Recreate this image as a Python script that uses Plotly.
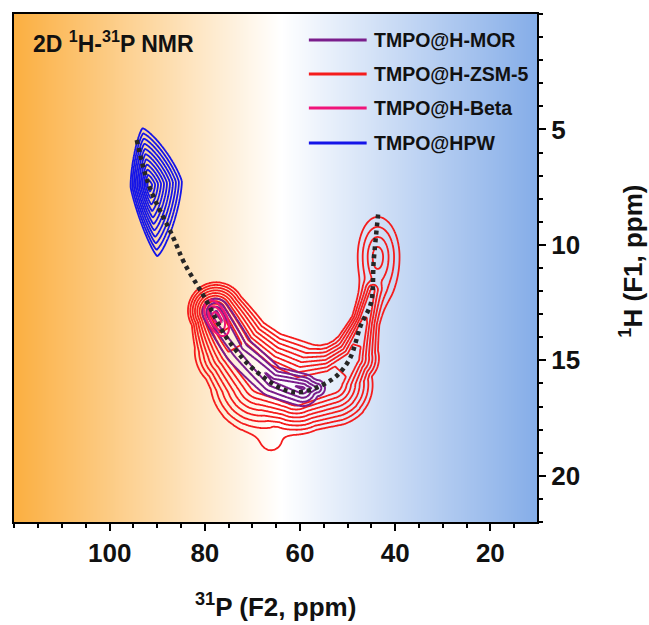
import numpy as np
import plotly.graph_objects as go

# ---------------- layout constants ----------------
W, H = 649, 625
MARGIN = dict(l=12, r=112, t=14, b=103)
X_RANGE = [120.1, 10.2]
Y_RANGE = [22.0, 0.0]
PLOT_W = W - MARGIN["l"] - MARGIN["r"]
PLOT_H = H - MARGIN["t"] - MARGIN["b"]
KX = PLOT_W / (X_RANGE[0] - X_RANGE[1])   # screen px per ppm (F2)
KY = PLOT_H / (Y_RANGE[0] - Y_RANGE[1])   # screen px per ppm (F1)

# ---------------- data ----------------
X_TICKS = [100, 80, 60, 40, 20]
Y_TICKS = [5, 10, 15, 20]

SERIES = ["TMPO@H-MOR", "TMPO@H-ZSM-5", "TMPO@H-Beta", "TMPO@HPW"]
COLORS = ["#7A1E8C", "#F51C1C", "#F0147A", "#1414E8"]

# isolated peaks:
# (F2 ppm, F1 ppm, contour levels, spacing left, right, up, down [px/level], tilt deg, norm p)
HPW_PEAKS = [
    (91.7, 7.41, 11, 1.7, 3.0, 5.2, 6.5, -6.6, 1.3),
]
ZSM5_PEAKS = [
    (43.69, 10.52, 4, 5.0, 5.5, 10.0, 12.0, 0, 2.0),    # high-field small peak
    (66.10, 18.45, 0.7, 13.0, 14.0, 14.0, 14.0, 0, 2.0),  # tail
]
BETA_PEAKS = [
    (77.5, 13.17, 3.0, 6.5, 6.5, 3.3, 3.3, 63, 2.0),
]
MOR_PEAKS = []

# correlation ridges:
# (F2 ppm, F1 ppm, contour levels, spacing inside, outside [px/level], flat core [px])
ZSM5_RIDGE = [
    (78.02, 12.91, 10.0, 2.8, 2.3, 3),
    (73.42, 14.55, 7.9, 3.9, 4.3, 8),
    (67.77, 15.76, 7.9, 4.6, 5.6, 11),
    (60.86, 16.37, 7.4, 5.2, 3.9, 12),
    (53.53, 15.94, 7.4, 3.8, 4.6, 10),
    (48.93, 14.90, 6.5, 3.2, 3.3, 5),
    (46.41, 13.25, 5.0, 2.0, 2.4, 3),
    (44.74, 11.95, 4.0, 2.4, 2.8, 2),
]
MOR_RIDGE = [
    (77.6, 12.91, 3.3, 4.0, 4.2, 0),
    (72.37, 14.55, 2.3, 5.5, 7.0, 0),
    (65.67, 15.85, 3.3, 4.0, 5.0, 0),
    (59.39, 16.20, 4.3, 3.3, 4.2, 0),
    (56.46, 16.20, 2.2, 3.7, 3.7, 0),
]

# dotted guide line
GUIDE_X = [94.3, 91.8, 86.6, 84.3, 80.1, 75.1, 68.8, 61.3, 53.5, 49.7, 47.2, 45.1, 44.5, 43.5]
GUIDE_Y = [5.46, 7.40, 9.70, 10.79, 12.26, 14.12, 15.55, 16.38, 15.86, 14.99, 13.47, 12.52, 10.66, 8.5]

# background gradient stops (F2 ppm, colour)
BG_STOPS = [(10.2, "#85ADE8"), (64.0, "#FFFFFF"), (120.1, "#FBAF41")]


def to_screen(X, Y):
    return (X_RANGE[0] - X) * KX, (Y - Y_RANGE[1]) * KY


def peaks_sum(X, Y, peaks):
    acc = np.zeros_like(X)
    for cx, cy, n, sxl, sxr, syu, syd, ang, p in peaks:
        dx = (cx - X) * KX
        dy = (Y - cy) * KY
        a = np.radians(ang)
        u = dx * np.cos(a) + dy * np.sin(a)
        v = -dx * np.sin(a) + dy * np.cos(a)
        un = np.where(u < 0, -u / sxl, u / sxr)
        vn = np.where(v < 0, -v / syu, v / syd)
        d = (un ** p + vn ** p) ** (1.0 / p)
        acc += np.exp(n - d)
    return acc


def ridge_sum(X, Y, ridge):
    if len(ridge) < 2:
        return np.zeros_like(X)
    SX, SY = to_screen(X, Y)
    best = np.full_like(X, -1e9)
    for (x0, y0, n0, wi0, wo0, c0), (x1, y1, n1, wi1, wo1, c1) in zip(ridge[:-1], ridge[1:]):
        px, py = to_screen(np.array(x0), np.array(y0))
        qx, qy = to_screen(np.array(x1), np.array(y1))
        dx, dy = qx - px, qy - py
        t = np.clip(((SX - px) * dx + (SY - py) * dy) / (dx * dx + dy * dy), 0, 1)
        ox = SX - (px + t * dx)
        oy = SY - (py + t * dy)
        dist = np.hypot(ox, oy) + 1e-9
        s = (dx * oy - dy * ox) / (np.hypot(dx, dy) * dist)   # -1 inside, +1 outside
        n = n0 + t * (n1 - n0)
        wi = wi0 + t * (wi1 - wi0)
        wo = wo0 + t * (wo1 - wo0)
        core = c0 + t * (c1 - c0)
        w = 0.5 * (wi + wo) + 0.5 * (wo - wi) * s
        best = np.maximum(best, n - np.maximum(dist - core, 0) / w)
    return np.exp(best)


def contour_trace(peaks, ridge, xlo, xhi, ylo, yhi, color, nx, ny, width=1.8):
    xs = np.linspace(xlo, xhi, nx)
    ys = np.linspace(ylo, yhi, ny)
    X, Y = np.meshgrid(xs, ys)
    z = np.round(np.log(peaks_sum(X, Y, peaks) + ridge_sum(X, Y, ridge) + 1e-9), 3)
    return go.Contour(
        x=np.round(xs, 3), y=np.round(ys, 3), z=z,
        autocontour=False,
        contours=dict(start=0, end=20, size=1, coloring="lines"),
        colorscale=[[0, color], [1, color]],
        line=dict(width=width),
        showscale=False, hoverinfo="skip", showlegend=False,
    )


fig = go.Figure()

# background gradient
bg_x = np.linspace(X_RANGE[1], X_RANGE[0], 60)
lo, hi = X_RANGE[1], X_RANGE[0]
cs = [[(x - lo) / (hi - lo), c] for x, c in BG_STOPS]
fig.add_trace(go.Heatmap(
    x=bg_x, y=[Y_RANGE[1], Y_RANGE[0]], z=[bg_x, bg_x],
    colorscale=cs, zmin=lo, zmax=hi, zsmooth="best",
    showscale=False, hoverinfo="skip",
))

fig.add_trace(contour_trace(HPW_PEAKS, [], 82, 101, 3.0, 12.5, COLORS[3], 170, 200))
fig.add_trace(contour_trace(ZSM5_PEAKS, ZSM5_RIDGE, 36, 90, 7.0, 21.5, COLORS[1], 240, 320))
fig.add_trace(contour_trace(MOR_PEAKS, MOR_RIDGE, 50, 86, 10.5, 19.0, COLORS[0], 180, 220, width=2.0))
fig.add_trace(contour_trace(BETA_PEAKS, [], 70, 86, 10.5, 16.0, COLORS[2], 100, 130, width=2.0))

fig.add_trace(go.Scatter(
    x=GUIDE_X, y=GUIDE_Y, mode="lines",
    line=dict(color="#262626", width=4.5, dash="4px,4px", shape="spline", smoothing=1.0),
    hoverinfo="skip", showlegend=False,
))

FONT = "Liberation Sans, Arial, sans-serif"

# manual legend
shapes = []
annotations = []
legend_rows = [40, 74, 108, 143]
for name, col, py in zip(SERIES, COLORS, legend_rows):
    yp = 1 - (py - MARGIN["t"]) / PLOT_H
    shapes.append(dict(type="line", xref="paper", yref="paper",
                       x0=(308 - MARGIN["l"]) / PLOT_W, x1=(366 - MARGIN["l"]) / PLOT_W,
                       y0=yp, y1=yp, line=dict(color=col, width=3)))
    annotations.append(dict(xref="paper", yref="paper",
                            x=(371 - MARGIN["l"]) / PLOT_W, y=yp,
                            xanchor="left", yanchor="middle", showarrow=False,
                            text=name, font=dict(family=FONT, size=19.5, color="#111111", weight="bold")))

annotations.append(dict(xref="paper", yref="paper",
                        x=(29 - MARGIN["l"]) / PLOT_W, y=1 - (42 - MARGIN["t"]) / PLOT_H,
                        xanchor="left", yanchor="middle", showarrow=False,
                        text="2D <sup>1</sup>H-<sup>31</sup>P NMR",
                        font=dict(family=FONT, size=23, color="#111111", weight="bold")))
# axis titles
annotations.append(dict(xref="paper", yref="paper",
                        x=(275 - MARGIN["l"]) / PLOT_W, y=1 - (605 - MARGIN["t"]) / PLOT_H,
                        xanchor="center", yanchor="middle", showarrow=False,
                        text="<sup>31</sup>P (F2, ppm)",
                        font=dict(family=FONT, size=26, color="#111111", weight="bold")))
annotations.append(dict(xref="paper", yref="paper",
                        x=(631 - MARGIN["l"]) / PLOT_W, y=1 - (261 - MARGIN["t"]) / PLOT_H,
                        xanchor="center", yanchor="middle", showarrow=False, textangle=-90,
                        text="<sup>1</sup>H (F1, ppm)",
                        font=dict(family=FONT, size=26, color="#111111", weight="bold")))

axis_common = dict(showline=True, linecolor="black", linewidth=2, mirror=True,
                   ticks="outside", ticklen=7, tickwidth=2, tickcolor="black",
                   showgrid=False, zeroline=False,
                   tickfont=dict(family=FONT, size=26, color="#111111", weight="bold"))

fig.update_layout(
    width=W, height=H, margin=MARGIN,
    paper_bgcolor="white", plot_bgcolor="white",
    showlegend=False,
    xaxis=dict(range=X_RANGE, tickmode="array", tickvals=X_TICKS,
               minor=dict(ticks="outside", dtick=5, tick0=0, ticklen=4, tickwidth=2, tickcolor="black"),
               **axis_common),
    yaxis=dict(range=Y_RANGE, side="right", tickmode="array", tickvals=Y_TICKS,
               minor=dict(ticks="outside", dtick=1, tick0=0, ticklen=4, tickwidth=2, tickcolor="black"),
               **axis_common),
    shapes=shapes, annotations=annotations,
)

fig.write_html("out.html")
